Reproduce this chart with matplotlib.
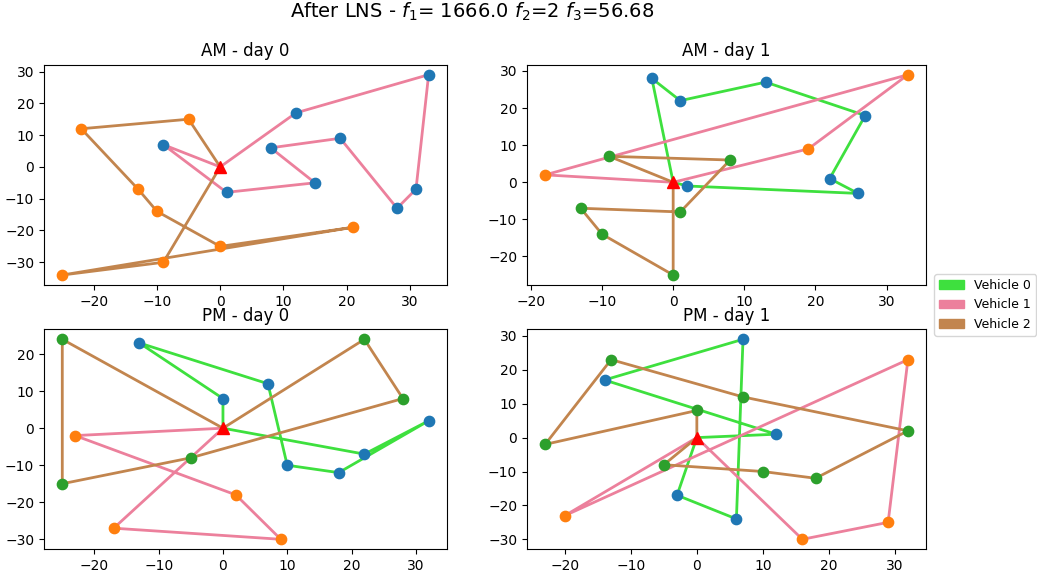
import matplotlib
matplotlib.use("Agg")
import matplotlib.pyplot as plt
from matplotlib.patches import Patch

vehicle_colors = ["#3ee03e", "#ec809c", "#c2854e"]
vehicle_labels = ["Vehicle 0", "Vehicle 1", "Vehicle 2"]
depot = (0, 0)

# routes per panel: vehicle index -> (x, y), depot at both ends
am0_routes = {
    1: ([0, 12, 33, 31, 28, 19, 8, 15, 1, -9, 0],
        [0, 17, 29, -7, -13, 9, 6, -5, -8, 7, 0]),
    2: ([0, -5, -22, -13, -10, 0, 21, -25, -9, 0],
        [0, 15, 12, -7, -14, -25, -19, -34, -30, 0]),
}
am1_routes = {
    0: ([0, -3, 1, 13, 27, 22, 26, 2, 0],
        [0, 28, 22, 27, 18, 1, -3, -1, 0]),
    1: ([0, 19, 33, -18, 0],
        [0, 9, 29, 2, 0]),
    2: ([0, -9, 8, 1, -13, -10, 0, 0],
        [0, 7, 6, -8, -7, -14, -25, 0]),
}
pm0_routes = {
    0: ([0, 0, -13, 7, 10, 18, 32, 22, 0],
        [0, 8, 23, 12, -10, -12, 2, -7, 0]),
    1: ([0, -23, 2, 9, -17, 0],
        [0, -2, -18, -30, -27, 0]),
    2: ([0, -25, -25, -5, 28, 22, 0],
        [0, 24, -15, -8, 8, 24, 0]),
}
pm1_routes = {
    0: ([0, 12, -14, 7, 6, -3, 0],
        [0, 1, 17, 29, -24, -17, 0]),
    1: ([0, -20, 32, 29, 16, 0],
        [0, -23, 23, -25, -30, 0]),
    2: ([0, 0, -23, -13, 7, 32, 18, 10, -5, 0],
        [0, 8, -2, 23, 12, 2, -12, -10, -8, 0]),
}

panels = [
    ("AM - day 0", am0_routes, [0.0424, 0.5043, 0.3886, 0.3832]),
    ("AM - day 1", am1_routes, [0.5082, 0.5043, 0.3848, 0.3832]),
    ("PM - day 0", pm0_routes, [0.0424, 0.0447, 0.3886, 0.3826]),
    ("PM - day 1", pm1_routes, [0.5082, 0.0447, 0.3848, 0.3826]),
]

fig = plt.figure(figsize=(10.37, 5.75), dpi=100)

for title, routes, rect in panels:
    ax = fig.add_axes(rect)
    for v, (xs, ys) in routes.items():
        ax.plot(xs, ys, color=vehicle_colors[v], lw=2, zorder=1)
    # customers coloured by route order, depot on top
    for i, (v, (xs, ys)) in enumerate(routes.items()):
        ax.scatter(xs[1:-1], ys[1:-1], s=55, color=f"C{i}", zorder=2)
    ax.plot(*depot, marker="^", color="red", markersize=9, linestyle="none", zorder=3)
    ax.set_title(title, fontsize=12)

handles = [Patch(color=c, label=l) for c, l in zip(vehicle_colors, vehicle_labels)]
fig.legend(handles=handles, loc="center left", bbox_to_anchor=(0.895, 0.47), fontsize=9)
fig.suptitle(r"After LNS - $f_1$= 1666.0 $f_2$=2 $f_3$=56.68", x=0.455, y=0.998, fontsize=14)

plt.savefig("out.png", dpi=100)
